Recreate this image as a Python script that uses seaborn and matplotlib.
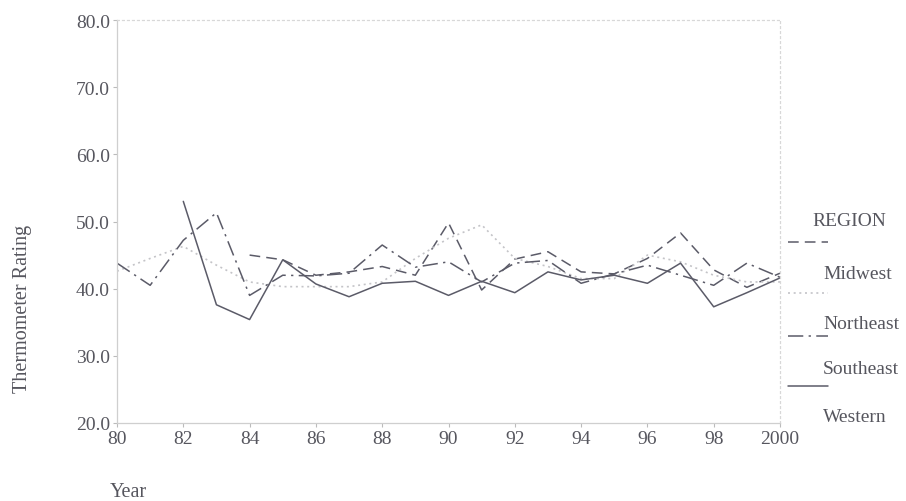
import numpy as np
import pandas as pd
import matplotlib
matplotlib.use("Agg")
import matplotlib.pyplot as plt
import seaborn as sns
from matplotlib.lines import Line2D

nan = np.nan
years = list(range(80, 101))
tick_years = list(range(80, 101, 2))
tick_labels = ["80", "82", "84", "86", "88", "90", "92", "94", "96", "98", "2000"]
y_ticks = [20, 30, 40, 50, 60, 70, 80]
regions = ["Midwest", "Northeast", "Southeast", "Western"]

midwest = [nan, nan, nan, nan, 45.0, 44.3, 42.0, 42.5, 43.3, 42.0, 49.8, 39.8,
           44.4, 45.5, 42.5, 42.2, 44.5, 48.3, 42.8, 40.2, 42.3]
northeast = [42.6, 44.5, 46.3, 43.5, 41.0, 40.3, 40.3, 40.3, 41.0, 44.5, 47.5, 49.5,
             44.5, 43.3, 41.5, 41.5, 45.0, 44.0, 42.0, 41.0, 41.0]
southeast = [43.8, 40.5, 47.2, 51.3, 39.0, 42.0, 41.9, 42.3, 46.5, 43.2, 44.0, 41.0,
             43.8, 44.2, 40.8, 42.2, 43.5, 42.0, 40.5, 43.8, 41.7]
western = [nan, nan, 53.0, 37.6, 35.4, 44.3, 40.7, 38.8, 40.8, 41.1, 39.0, 41.1,
           39.4, 42.5, 41.3, 42.0, 40.8, 43.8, 37.3, 39.4, 41.6]

series = {"Midwest": midwest, "Northeast": northeast,
          "Southeast": southeast, "Western": western}

sns.set_style("white")
plt.rcParams["font.family"] = ["Liberation Serif", "DejaVu Serif"]

LINE = "#5b5b68"
LIGHT = "#c4c4c8"
TXT = "#56565e"
styles = {
    "Midwest": dict(color=LINE, dashes=(7, 4), lw=1.1),
    "Northeast": dict(color=LIGHT, dashes=(1.2, 2.2), lw=1.2),
    "Southeast": dict(color=LINE, dashes=(10, 3.5, 1.5, 3.5), lw=1.1),
    "Western": dict(color=LINE, dashes=None, lw=1.1),
}

W, H = 906, 502
fig = plt.figure(figsize=(W / 100, H / 100), dpi=100)
ax = fig.add_axes([117 / W, 1 - 424 / H, (780 - 117) / W, (424 - 21) / H])

for name in regions:
    df = pd.DataFrame({"year": years, "value": series[name]}).dropna()
    st = styles[name]
    sns.lineplot(data=df, x="year", y="value", ax=ax, color=st["color"],
                 lw=st["lw"], legend=False)
    line = ax.lines[-1]
    if st["dashes"] is not None:
        line.set_dashes(st["dashes"])

ax.set_xlim(80, 100)
ax.set_ylim(20, 80)
ax.set_xticks(tick_years)
ax.set_xticklabels(tick_labels)
ax.set_yticks(y_ticks)
ax.set_yticklabels([f"{v:.1f}" for v in y_ticks])
ax.set_xlabel("")
ax.set_ylabel("")
ax.tick_params(axis="both", which="major", length=3, width=0.8, color="#bbbbbb",
               labelsize=14, labelcolor=TXT, pad=2, direction="out")
ax.tick_params(axis="both", bottom=True, left=True)

for s in ["left", "bottom"]:
    ax.spines[s].set_color("#cfcfcf")
    ax.spines[s].set_linewidth(0.9)
for s in ["top", "right"]:
    ax.spines[s].set_color("#d8d8d8")
    ax.spines[s].set_linewidth(0.9)
    ax.spines[s].set_linestyle((0, (1.5, 2.5)))

fig.text(23 / W, 1 - 309 / H, "Thermometer Rating", rotation=90, ha="center",
         va="center", fontsize=14.5, color=TXT)
fig.text(110 / W, 1 - 497 / H, "Year", ha="left", va="baseline",
         fontsize=14.5, color=TXT)

# legend
fig.text(812 / W, 1 - 222 / H, "REGION", ha="left", va="center", fontsize=14, color=TXT)
leg_line_y = [243, 294, 337, 387]
leg_text_y = [275, 325, 370, 418]
for name, ly, ty in zip(regions, leg_line_y, leg_text_y):
    st = styles[name]
    ln = Line2D([788 / W, 828 / W], [1 - ly / H] * 2, transform=fig.transFigure,
                color=st["color"], lw=st["lw"])
    if st["dashes"] is not None:
        ln.set_dashes(st["dashes"])
    fig.add_artist(ln)
    fig.text(823 / W, 1 - ty / H, name, ha="left", va="center", fontsize=14, color=TXT)

fig.savefig("out.png", dpi=100)
